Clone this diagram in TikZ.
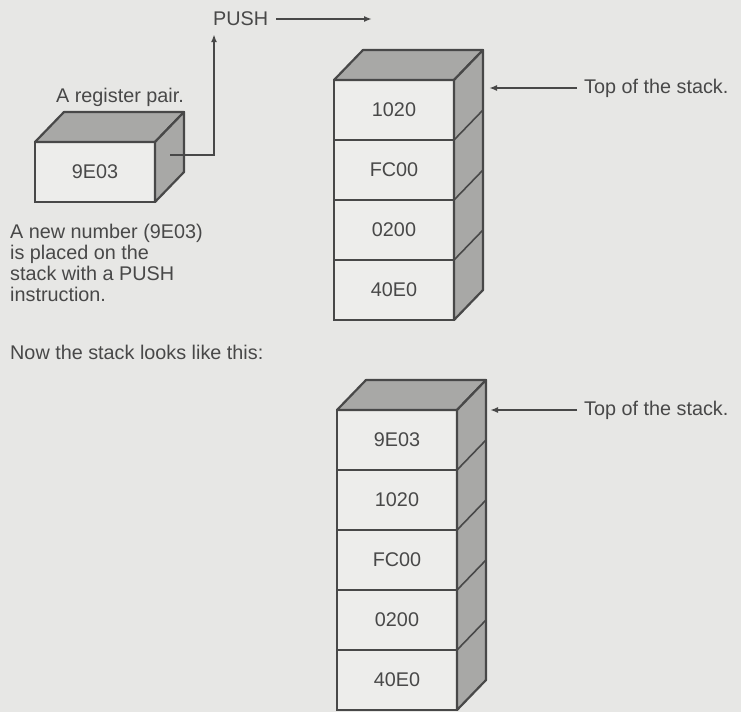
\documentclass[tikz,border=0pt]{standalone}
\usepackage{fontspec}
\setmainfont{Liberation Sans}
\usetikzlibrary{arrows.meta, positioning, calc}

\definecolor{paper}{RGB}{231,231,229}
\definecolor{ink}{RGB}{72,72,72}
\definecolor{shade}{RGB}{168,168,166}
\definecolor{face}{RGB}{237,237,235}

\begin{document}
\begin{tikzpicture}[
    x=1pt, y=-1pt,
    font=\fontsize{19.8}{20.9}\selectfont,
    text=ink,
    cell/.style={rectangle, draw=ink, line width=2.2pt, fill=face, minimum width=120pt, minimum height=60pt, inner sep=0pt, outer sep=0pt},
    side/.style={draw=ink, line width=2.2pt, fill=shade, line join=round},
    edge/.style={draw=ink, line width=1.6pt},
    lbl/.style={inner sep=2pt},
    arrow/.style={-{Latex[length=8pt, width=6pt]}, draw=ink, line width=1.6pt},
]

% Page
\fill[paper] (0,0) rectangle (741,712);
\useasboundingbox (0,0) rectangle (741,712);

% Register pair
\node[cell] (reg) at (95,172) {9E03};
\filldraw[side] (reg.north west) -- ++(29,-30) -- ($(reg.north east)+(29,-30)$) -- (reg.north east) -- cycle;
\filldraw[side] (reg.north east) -- ++(29,-30) -- ($(reg.south east)+(29,-30)$) -- (reg.south east) -- cycle;
\node[lbl, above=33pt of reg, xshift=25pt] (regname) {A register pair.};

% Stack before the push
\node[cell] (a1) at (394,110) {1020};
\node[cell, below=0pt of a1] (a2) {FC00};
\node[cell, below=0pt of a2] (a3) {0200};
\node[cell, below=0pt of a3] (a4) {40E0};
\filldraw[side] (a1.north west) -- ++(29,-30) -- ($(a1.north east)+(29,-30)$) -- (a1.north east) -- cycle;
\filldraw[side] (a1.north east) -- ++(29,-30) -- ($(a4.south east)+(29,-30)$) -- (a4.south east) -- cycle;
\foreach \c in {a1,a2,a3}
    \draw[edge] (\c.south east) -- ++(29,-30);

% Labels
\node[lbl, anchor=west] (push) at (211,19) {PUSH};
\node[lbl, anchor=west] (tos1) at (582,88) {Top of the stack.};
\node[lbl, anchor=north west, align=left] (note) at (8,222) {A new number (9E03)\\is placed on the\\stack with a PUSH\\instruction.};
\node[lbl, anchor=west] (now) at (8,352) {Now the stack looks like this:};

% Stack after the push
\node[cell] (b1) at (397,440) {9E03};
\node[cell, below=0pt of b1] (b2) {1020};
\node[cell, below=0pt of b2] (b3) {FC00};
\node[cell, below=0pt of b3] (b4) {0200};
\node[cell, below=0pt of b4] (b5) {40E0};
\filldraw[side] (b1.north west) -- ++(29,-30) -- ($(b1.north east)+(29,-30)$) -- (b1.north east) -- cycle;
\filldraw[side] (b1.north east) -- ++(29,-30) -- ($(b5.south east)+(29,-30)$) -- (b5.south east) -- cycle;
\foreach \c in {b1,b2,b3,b4}
    \draw[edge] (\c.south east) -- ++(29,-30);
\node[lbl, anchor=west] (tos2) at (582,410) {Top of the stack.};

% Arrows
\coordinate (regout) at ($(reg.east)+(15,-17)$);
\coordinate (pushin) at ($(push.south west)+(3,6)$);
\coordinate (pushto) at (372,19);
\draw[arrow] (regout) -| (pushin);
\draw[arrow, shorten <=6pt] (push.east) -- (push.east -| pushto);
\draw[arrow, shorten <=5pt] (tos1.west) -- ($(a1.north east)+(35,8)$);
\draw[arrow, shorten <=5pt] (tos2.west) -- ($(b1.north east)+(33,0)$);

\end{tikzpicture}
\end{document}
